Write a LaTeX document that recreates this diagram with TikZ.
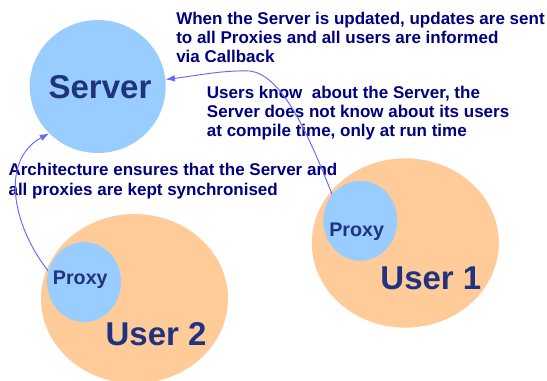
\documentclass[tikz,border=0pt]{standalone}
\usepackage{fontspec}
\setmainfont{Liberation Sans}
\usepackage{tikz}
\usetikzlibrary{shapes}
\usetikzlibrary{arrows.meta}
\usepackage{xcolor}
\definecolor{serverBlue}{RGB}{153,204,255}
\definecolor{userOrange}{RGB}{255,204,153}
\definecolor{noteNavy}{RGB}{0,0,128}
\definecolor{labelBlue}{RGB}{31,51,128}
\definecolor{linkBlue}{RGB}{102,102,255}

\begin{document}
\begin{tikzpicture}[x=0.75pt, y=-0.75pt,
        bubble/.style={ellipse, inner sep=0pt, draw=none},
        note/.style={anchor=north west, inner sep=0pt, align=left, text=noteNavy,
            font=\fontsize{12.75}{14.4}\selectfont\bfseries},
        biglabel/.style={anchor=base, inner sep=0pt, text=labelBlue,
            font=\fontsize{24.75}{30}\selectfont\bfseries},
        proxylabel/.style={anchor=base, inner sep=0pt, text=labelBlue,
            font=\fontsize{14.75}{18}\selectfont\bfseries},
        link/.style={draw=linkBlue, line width=0.7pt, -{Latex[length=7pt,width=5pt]}}]
        \useasboundingbox (0,0) rectangle (547,380);
        \clip (0,0) rectangle (547,380);
        % 1 unit = 1 px of the slide
        \node [bubble, fill=serverBlue, minimum width=102pt, minimum height=99.75pt] (server) at (97.7,86.5) {};
        \node [bubble, fill=userOrange, minimum width=140.25pt, minimum height=127pt] (user1) at (405.3,243) {};
        \node [bubble, fill=serverBlue, minimum width=55.5pt, minimum height=60pt] (proxy1) at (360.3,220.7) {};
        \node [bubble, fill=userOrange, minimum width=140.25pt, minimum height=127pt] (user2) at (134.5,298.7) {};
        \node [bubble, fill=serverBlue, minimum width=55.5pt, minimum height=60pt] (proxy2) at (84.1,282) {};
        \node [biglabel] (serverlabel) at (100,98.3) {Server};
        \node [biglabel] (user1label) at (430.9,289.3) {User 1};
        \node [biglabel] (user2label) at (156.1,345) {User 2};
        \node [proxylabel] (proxy1label) at (356.7,236) {Proxy};
        \node [proxylabel] (proxy2label) at (80.3,284.5) {Proxy};
        \node [note] (updatenote) at (176,11.9) {When the Server is updated, updates are sent\\to all Proxies and all users are informed\\via Callback};
        \node [note] (knownote) at (206.7,85.6) {Users know~ about the Server, the\\Server does not know about its users\\at compile time, only at run time};
        \node [note] (syncnote) at (8.3,163.3) {Architecture ensures that the Server and\\all proxies are kept synchronised};
        \draw [link] (proxy1.137) .. controls (305,125) and (280,75) .. (250,71) .. controls (222,70) and (195,76) .. (server.6);
        \draw [link] (proxy2.163) .. controls (12,225) and (0,160) .. (server.224);
\end{tikzpicture}
\end{document}
